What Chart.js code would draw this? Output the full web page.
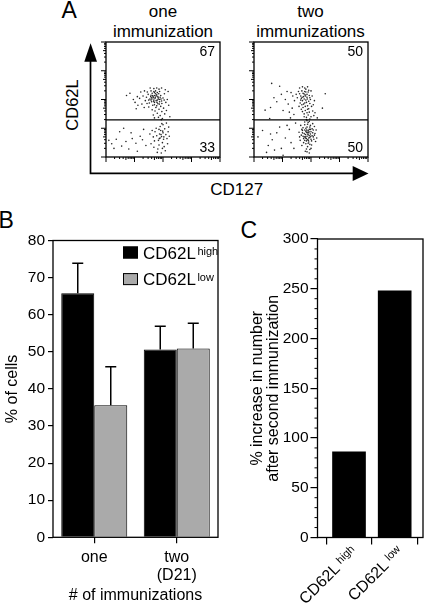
<!DOCTYPE html>
<html lang="en">
<head>
<meta charset="UTF-8">
<title>CD62L subsets after immunization</title>
<script src="https://cdn.jsdelivr.net/npm/chart.js@4"></script>
<style>
  body { margin: 0; background: #fff; }
  #fig { position: relative; width: 425px; height: 605px; overflow: hidden; }
  #fig canvas, #fig svg { position: absolute; }
</style>
</head>
<body>
<div id="fig">
  <svg width="425" height="605" style="left:0;top:0">
    <g font-family="Liberation Sans, Arial, sans-serif" fill="#000">
      <text x="61.5" y="18.3" font-size="23">A</text>
      <text x="-1.5" y="228.3" font-size="23">B</text>
      <text x="240.5" y="237.5" font-size="23">C</text>
      <text x="163" y="17" font-size="17" text-anchor="middle">one</text>
      <text x="163" y="37" font-size="17" text-anchor="middle">immunization</text>
      <text x="310.5" y="17" font-size="17" text-anchor="middle">two</text>
      <text x="310.5" y="37" font-size="17" text-anchor="middle">immunizations</text>
      <text transform="translate(77.5,105) rotate(-90)" font-size="16.5" text-anchor="middle">CD62L</text>
      <text x="236.7" y="195" font-size="17" text-anchor="middle">CD127</text>
    </g>
    <path d="M90.5 174.1 V58 M89.7 173.3 H356" stroke="#000" stroke-width="1.7" fill="none"/>
    <polygon points="84.3,61.7 90.6,43.3 97,61.7" fill="#000"/>
    <polygon points="352.7,166 368.5,173.5 352.7,181" fill="#000"/>
  </svg>
  <canvas id="dotsOne" width="134" height="136" style="left:96px;top:32px"></canvas>
  <canvas id="dotsTwo" width="134" height="136" style="left:244px;top:32px"></canvas>
  <canvas id="chartB" width="225" height="400" style="left:0;top:205px"></canvas>
  <canvas id="chartC" width="200" height="400" style="left:225px;top:205px"></canvas>
</div>

<script>
// ---- panel A: dot plots, positions in log decades (0-4), x = CD127, y = CD62L
const oneHighDots = [[1.72,2.04],[1.65,2.10],[1.80,1.98],[1.58,2.15],[1.90,2.08],[1.70,1.90],[1.62,2.22],[1.85,2.20],
  [1.76,2.12],[1.68,1.98],[1.54,2.02],[1.95,1.95],[1.74,2.30],[1.82,1.85],[1.60,1.92],[1.48,2.18],[1.88,2.28],
  [1.66,2.06],[1.78,2.16],[1.70,2.24],[2.00,2.05],[1.52,1.88],[1.84,2.02],[1.64,1.80],[1.92,1.76],[1.75,1.72],
  [1.42,2.08],[1.58,2.30],[2.05,2.20],[1.86,1.66],[1.68,2.38],[1.96,1.58],[1.80,1.52],[2.10,1.90],[1.62,1.64],
  [1.38,1.96],[1.30,2.12],[1.45,2.26],[2.08,2.34],[1.90,1.44],[2.02,1.70],[1.72,1.60],[1.50,1.74],[1.78,2.40],
  [2.15,2.00],[1.95,2.40],[1.26,1.84],[1.18,2.04],[1.10,2.10],[1.35,2.30],[1.98,1.34],[2.06,1.50],[1.84,1.38],
  [2.12,1.62],[1.66,1.46],[2.18,2.28],[1.55,2.40],[2.20,1.80],[1.88,1.92],[1.70,1.82],[1.76,1.96],[1.82,2.10],
  [1.64,2.14],[1.58,1.98],[1.92,2.14],[1.86,2.36],[1.74,2.20],[1.60,2.06],[1.68,2.28],[1.80,2.24],[1.96,1.86],
  [2.04,1.98],[1.50,1.98],[1.44,1.86],[1.02,1.90],[0.96,2.00],[0.84,2.22],[1.22,2.26],[1.12,1.80],[0.72,2.14],
  [1.06,1.68],[1.34,1.72],[2.24,1.40],[1.94,1.30],[1.70,1.36],[1.78,1.78],[1.88,2.00],[1.73,2.08],[1.67,1.94],
  [1.83,2.06],[1.61,2.02],[1.79,1.90],[1.71,2.14],[1.87,1.84],[1.57,2.10],[1.93,2.02]];
const oneLowDots = [[1.95,0.71],[1.88,0.80],[2.02,0.62],[1.92,0.92],[2.10,0.78],[1.84,0.58],[2.06,0.98],[1.98,0.50],
  [1.78,0.74],[2.14,0.64],[1.90,1.06],[2.18,0.88],[1.72,0.88],[2.04,0.36],[1.86,0.42],[2.20,1.04],[1.96,1.16],
  [1.70,0.56],[2.08,0.22],[1.82,0.28],[1.94,0.14],[2.12,1.18],[1.66,0.70],[2.00,0.84],[1.90,0.66],[2.16,0.46],
  [1.76,1.00],[1.62,0.92],[2.22,0.72],[1.58,0.46],[1.80,0.16],[2.00,1.12],[1.68,0.34],[1.98,0.30],[1.86,0.96],
  [1.54,0.80],[1.93,0.78],[2.03,0.70],[1.87,0.64],[1.99,0.90],[0.20,0.46],[0.36,0.62],[0.55,0.38],[0.70,0.54],
  [0.48,0.88],[0.92,0.64],[1.05,0.48],[0.28,0.30],[1.20,0.72],[0.80,0.28],[1.32,0.96],[0.62,1.00],[1.10,0.20],
  [0.10,0.58],[1.40,0.40],[0.88,0.84],[1.28,0.60]];
const twoHighDots = [[1.79,2.16],[1.72,2.22],[1.86,2.08],[1.68,2.30],[1.90,2.26],[1.76,2.02],[1.82,2.36],[1.64,2.12],
  [1.94,2.14],[1.70,1.96],[1.84,1.90],[1.78,2.40],[1.60,2.20],[1.98,2.00],[1.74,1.84],[1.88,1.78],[1.66,2.04],
  [1.92,1.68],[1.80,1.62],[1.96,1.86],[1.72,1.72],[1.86,1.54],[2.02,1.76],[1.90,1.46],[1.76,1.50],[2.06,1.60],
  [1.84,1.38],[1.96,1.32],[1.70,1.58],[2.10,1.44],[1.56,2.28],[1.52,2.06],[1.62,1.88],[2.00,2.30],[1.88,2.44],
  [1.70,2.44],[2.04,2.12],[1.48,2.18],[1.42,1.96],[1.36,2.12],[1.30,2.24],[1.58,1.76],[2.12,1.96],[2.08,1.82],
  [1.82,1.98],[1.78,2.28],[1.74,2.10],[1.86,2.18],[1.92,1.94],[1.68,1.82],[1.80,1.76],[1.94,1.56],[1.88,1.66],
  [1.76,1.40],[2.00,1.40],[1.84,1.30],[1.66,1.66],[1.60,2.40],[2.14,1.54],[1.92,2.32],[1.64,1.98],[1.82,2.26],
  [1.78,1.88],[1.96,2.06],[1.81,2.12],[1.75,2.20],[1.87,2.02],[1.69,2.08],[1.20,1.84],[1.10,2.00],[0.96,2.18],
  [1.24,1.56],[0.80,1.92],[1.02,1.62],[1.34,1.70],[0.70,2.06],[0.90,2.46],[1.16,2.28],[1.40,1.48],[1.28,1.36],
  [0.58,1.72],[0.62,2.56],[0.39,1.63],[0.55,1.34],[2.50,2.20],[2.40,1.70],[2.22,1.36]];
const twoLowDots = [[1.90,0.77],[1.84,0.86],[1.96,0.68],[1.80,0.70],[2.00,0.88],[1.88,0.60],[1.94,0.96],[1.76,0.82],
  [2.04,0.74],[1.86,1.04],[1.92,0.52],[1.70,0.92],[2.08,0.94],[1.82,0.46],[1.98,1.10],[1.74,0.64],[2.10,0.62],
  [1.78,1.12],[1.88,0.36],[2.02,0.42],[1.66,0.76],[2.14,0.82],[1.84,0.28],[1.96,0.26],[1.72,1.02],[2.06,1.16],
  [1.62,0.58],[1.90,1.20],[1.80,0.20],[2.16,0.54],[1.58,0.86],[2.12,1.06],[1.68,0.40],[1.94,0.14],[2.00,0.62],
  [1.86,0.72],[1.92,0.84],[1.78,0.94],[1.98,0.80],[1.84,0.56],[1.76,0.70],[2.04,0.98],[1.90,0.92],[1.82,1.00],
  [1.96,0.44],[1.70,0.84],[2.08,0.70],[1.88,1.14],[1.74,0.50],[2.18,0.94],[1.64,1.10],[1.86,0.18],[2.00,0.30],
  [1.92,0.66],[1.80,0.78],[2.02,0.56],[1.88,0.86],[1.94,0.74],[1.72,0.72],[1.98,0.96],[1.84,0.64],[1.90,0.48],
  [2.06,0.84],[1.78,0.58],[1.96,1.04],[1.68,0.96],[2.12,0.76],[1.60,0.70],[1.82,0.90],[2.20,0.66],[1.86,1.26],
  [1.94,1.24],[1.78,1.22],[1.87,0.80],[1.93,0.88],[1.81,0.66],[1.99,0.72],[1.85,0.94],[1.91,0.58],
  [0.14,0.70],[0.30,0.92],[0.50,0.40],[0.64,0.60],[0.80,0.84],[0.44,0.16],[0.96,0.30],[1.10,0.66],[1.24,0.96],
  [0.72,0.24],[1.30,0.50],[1.16,1.10],[0.58,0.80],[1.40,0.30],[0.90,1.04],[1.02,0.06],[1.46,1.18]];
const gateDecade = 1.29;
const oneQuadrants = ['67', '33'];
const twoQuadrants = ['50', '50'];

// ---- panel B: % of cells, mean and error
const groupLabels = [['one'], ['two', '(D21)']];
const highMean = [65.8, 50.6];
const highErr = [8.1, 6.3];
const lowMean = [35.6, 50.9];
const lowErr = [10.4, 6.8];

// ---- panel C: % increase after second immunization
const subsetLabels = ['high', 'low'];
const increasePct = [86, 248];

const FONT = "'Liberation Sans', Arial, sans-serif";
Chart.defaults.font.family = FONT;
Chart.defaults.color = '#000';

function drawSup(ctx, main, sup, x, y, mainSize, supSize, gap) {
  ctx.font = mainSize + 'px ' + FONT;
  ctx.textAlign = 'left';
  ctx.textBaseline = 'alphabetic';
  ctx.fillText(main, x, y);
  const w = ctx.measureText(main).width;
  ctx.font = supSize + 'px ' + FONT;
  ctx.fillText(sup, x + w + gap, y - 4);
}

const dotFrame = {
  id: 'dotFrame',
  afterDraw(chart, args, opts) {
    const { ctx, chartArea: a, scales: { x, y } } = chart;
    ctx.save();
    ctx.strokeStyle = '#000';
    ctx.lineWidth = 1;
    ctx.beginPath();
    for (let d = 0; d <= 4; d++) {
      for (let k = 1; k <= 9; k++) {
        if (d === 4 && k > 1) break;
        const v = d + Math.log10(k);
        const len = k === 1 ? 5 : (k === 5 ? 3 : 2);
        const px = x.getPixelForValue(v), py = y.getPixelForValue(v);
        ctx.moveTo(px, a.bottom); ctx.lineTo(px, a.bottom + len);
        ctx.moveTo(a.left, py); ctx.lineTo(a.left - len, py);
      }
    }
    ctx.stroke();
    ctx.lineWidth = 1.3;
    ctx.strokeRect(a.left, a.top, a.width, a.height);
    const gy = y.getPixelForValue(opts.gate);
    ctx.beginPath(); ctx.moveTo(a.left, gy); ctx.lineTo(a.right, gy); ctx.stroke();
    ctx.fillStyle = '#000';
    ctx.font = '14px ' + FONT;
    ctx.textAlign = 'right';
    ctx.textBaseline = 'middle';
    ctx.fillText(opts.labels[0], a.right - 5, a.top + 10);
    ctx.fillText(opts.labels[1], a.right - 5, a.bottom - 8.5);
    ctx.restore();
  }
};

function dotChart(id, high, low, labels) {
  const pts = high.concat(low).map(p => ({ x: p[0], y: p[1] }));
  return new Chart(document.getElementById(id), {
    type: 'scatter',
    data: { datasets: [{ data: pts, pointRadius: 0.8, pointBackgroundColor: '#262626', pointBorderWidth: 0 }] },
    options: {
      responsive: false, animation: false, events: [],
      layout: { padding: { left: 10, right: 10, top: 10, bottom: 11 } },
      scales: {
        x: { type: 'linear', min: 0, max: 4, display: false },
        y: { type: 'linear', min: 0, max: 4, display: false }
      },
      plugins: { legend: { display: false }, tooltip: { enabled: false }, dotFrame: { gate: gateDecade, labels: labels } }
    },
    plugins: [dotFrame]
  });
}

dotChart('dotsOne', oneHighDots, oneLowDots, oneQuadrants);
dotChart('dotsTwo', twoHighDots, twoLowDots, twoQuadrants);

const boxFrame = {
  id: 'boxFrame',
  afterDatasetsDraw(chart) {
    const { ctx, chartArea: a } = chart;
    ctx.save();
    ctx.strokeStyle = '#000';
    ctx.lineWidth = 1.3;
    ctx.strokeRect(a.left, a.top, a.width, a.height);
    ctx.restore();
  }
};

const errorBars = {
  id: 'errorBars',
  afterDatasetsDraw(chart) {
    const { ctx, scales: { y } } = chart;
    ctx.save();
    ctx.strokeStyle = '#000';
    ctx.lineWidth = 1.5;
    chart.data.datasets.forEach((ds, i) => {
      chart.getDatasetMeta(i).data.forEach((bar, j) => {
        const top = y.getPixelForValue(ds.data[j] + ds.errors[j]);
        ctx.beginPath();
        ctx.moveTo(bar.x, bar.y); ctx.lineTo(bar.x, top);
        ctx.moveTo(bar.x - 5.5, top); ctx.lineTo(bar.x + 5.5, top);
        ctx.stroke();
      });
    });
    ctx.restore();
  }
};

const supLegend = {
  id: 'supLegend',
  afterDraw(chart) {
    const { ctx, chartArea: a } = chart;
    ctx.save();
    chart.data.datasets.forEach((ds, i) => {
      const bx = a.left + 70, by = a.top + 6 + i * 26.6;
      ctx.fillStyle = ds.backgroundColor;
      ctx.fillRect(bx, by, 15, 12);
      ctx.strokeStyle = '#000';
      ctx.lineWidth = 1;
      ctx.strokeRect(bx + 0.5, by + 0.5, 14, 11);
      ctx.fillStyle = '#000';
      drawSup(ctx, 'CD62L', ds.label, bx + 20, by + 12, 17, 11, 1.5);
    });
    ctx.restore();
  }
};

new Chart(document.getElementById('chartB'), {
  type: 'bar',
  data: {
    labels: groupLabels,
    datasets: [
      { label: 'high', data: highMean, errors: highErr, backgroundColor: '#000', borderColor: '#000', borderWidth: 1,
        categoryPercentage: 0.8, barPercentage: 1 },
      { label: 'low', data: lowMean, errors: lowErr, backgroundColor: '#aaaaaa', borderColor: '#000', borderWidth: 1,
        categoryPercentage: 0.8, barPercentage: 1 }
    ]
  },
  options: {
    responsive: false, animation: false, events: [],
    layout: { padding: { left: 0, right: 7, top: 35.5, bottom: 0 } },
    scales: {
      x: {
        grid: { offset: false, drawOnChartArea: false, tickLength: 6, color: '#000', lineWidth: 1.2 },
        border: { display: false },
        ticks: { font: { size: 16, lineHeight: 1.15 }, padding: 5 },
        title: { display: true, text: '# of immunizations', font: { size: 16 }, padding: { top: 0, bottom: 0 } },
        afterFit: s => { s.height = 67.7; }
      },
      y: {
        min: 0, max: 80,
        ticks: { stepSize: 10, font: { size: 15.5 }, padding: 3 },
        grid: { drawOnChartArea: false, tickLength: 5, color: '#000', lineWidth: 1.2 },
        border: { display: false },
        title: { display: true, text: '% of cells', font: { size: 16 }, padding: { top: 3, bottom: 0 } },
        afterFit: s => { s.width = 53; }
      }
    },
    plugins: { legend: { display: false }, tooltip: { enabled: false } }
  },
  plugins: [errorBars, boxFrame, supLegend]
});

const minorTicks = {
  id: 'minorTicks',
  afterDraw(chart) {
    const { ctx, chartArea: a, scales: { y } } = chart;
    ctx.save();
    ctx.strokeStyle = '#000';
    ctx.lineWidth = 1;
    ctx.beginPath();
    for (let v = y.min + 10; v < y.max; v += 10) {
      if (v % 50 === 0) continue;
      const py = y.getPixelForValue(v);
      ctx.moveTo(a.left - 3, py); ctx.lineTo(a.left, py);
    }
    ctx.stroke();
    ctx.restore();
  }
};

const rotatedLabels = {
  id: 'rotatedLabels',
  afterDraw(chart) {
    const { ctx, chartArea: a, scales: { x } } = chart;
    subsetLabels.forEach((lab, i) => {
      const px = x.getPixelForValue(i + 1);
      ctx.save();
      ctx.fillStyle = '#000';
      ctx.translate(px + 9, a.bottom + 15);
      ctx.rotate(-Math.PI / 4);
      ctx.font = '16px ' + FONT;
      const w1 = ctx.measureText('CD62L').width;
      ctx.font = '11px ' + FONT;
      const w2 = ctx.measureText(lab).width;
      drawSup(ctx, 'CD62L', lab, -(w1 + 3.5 + w2), 0, 16, 11, 3.5);
      ctx.restore();
    });
  }
};

new Chart(document.getElementById('chartC'), {
  type: 'bar',
  data: {
    datasets: [{
      data: increasePct.map((v, i) => ({ x: i + 1, y: v })),
      backgroundColor: '#000', borderColor: '#000', borderWidth: 0, barThickness: 33
    }]
  },
  options: {
    responsive: false, animation: false, events: [],
    layout: { padding: { left: 0, right: 2, top: 34, bottom: 0 } },
    scales: {
      x: {
        type: 'linear', min: 0.31, max: 2.62, offset: false,
        afterBuildTicks: s => { s.ticks = subsetLabels.map((_, i) => ({ value: i + 1 })); },
        ticks: { display: false },
        grid: { drawOnChartArea: false, tickLength: 7, color: '#000', lineWidth: 1.2 },
        border: { display: false },
        afterFit: s => { s.height = 67.5; }
      },
      y: {
        min: 0, max: 300,
        ticks: { stepSize: 50, font: { size: 15.5 }, padding: 2 },
        grid: { drawOnChartArea: false, tickLength: 7, color: '#000', lineWidth: 1.2 },
        border: { display: false },
        title: {
          display: true, text: ['% increase in number', 'after second immunization'],
          font: { size: 16, lineHeight: 1.0 }, padding: { top: 25, bottom: 0 }
        },
        afterFit: s => { s.width = 92.5; }
      }
    },
    plugins: { legend: { display: false }, tooltip: { enabled: false } }
  },
  plugins: [boxFrame, minorTicks, rotatedLabels]
});
</script>
</body>
</html>
